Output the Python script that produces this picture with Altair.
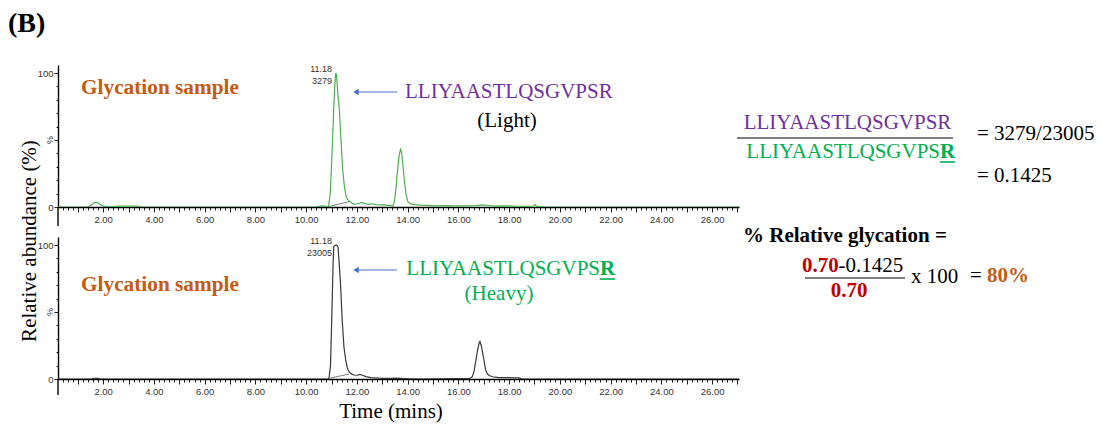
import altair as alt
import pandas as pd

# ---- chromatogram traces (retention time in min, relative abundance in %) ----
light_time = [0.22, 1.35, 1.50, 1.62, 1.72, 1.82, 1.95, 2.10, 2.30, 2.65, 3.00, 3.35, 3.50,
              10.40, 10.50, 10.65, 10.80, 10.88, 10.95, 11.01, 11.07, 11.12, 11.16, 11.18, 11.21,
              11.26, 11.31, 11.38, 11.44, 11.51, 11.57, 11.64, 11.71, 11.80, 11.90,
              12.00, 12.10, 12.20, 12.30, 12.45, 12.60, 12.75, 12.90, 13.05, 13.20, 13.35,
              13.42, 13.48, 13.54, 13.60, 13.66, 13.72, 13.76, 13.81, 13.88, 13.94, 14.01, 14.14,
              14.30, 14.50, 14.80, 15.10, 15.50, 15.90, 16.30, 16.70, 16.95, 17.10, 17.40, 17.80,
              18.20, 18.60, 18.95, 19.02, 19.10, 19.50, 27.06]
light_abund = [0, 0, 1.0, 3.0, 3.6, 2.8, 1.2, 0.4, 0.1, 0.6, 0.7, 0.6, 0,
               0, 0.5, 0.8, 0.4, 0.3, 10, 35, 65, 88, 99, 100, 95,
               82, 72, 48, 28, 15, 8, 5.5, 4.0, 3.0, 2.2,
               2.3, 2.8, 3.4, 2.6, 2.0, 2.4, 1.8, 1.5, 1.8, 1.2, 1.0,
               0.8, 4, 14, 27, 38, 43, 41, 32, 18, 9, 4, 2.2,
               1.8, 1.4, 1.2, 0.9, 1.1, 0.8, 0.9, 1.0, 1.6, 1.3, 0.7, 0.9,
               0.6, 0.5, 0.6, 1.8, 0.4, 0, 0]

heavy_time = [0.22, 1.55, 1.62, 1.80, 1.88,
              10.85, 10.90, 10.96, 11.01, 11.06, 11.09, 11.13, 11.18, 11.23, 11.26, 11.31, 11.36,
              11.42, 11.49, 11.56, 11.62, 11.69, 11.78, 11.88,
              12.00, 12.12, 12.22, 12.35, 12.55, 12.80, 13.10, 13.35, 13.55, 13.80, 14.10, 14.50,
              16.45, 16.55, 16.62, 16.69, 16.76, 16.82, 16.85, 16.90, 16.95, 17.01, 17.07, 17.14,
              17.24, 17.34, 17.60, 17.90, 18.20, 18.40, 18.50, 27.06]
heavy_abund = [0, 0, 0.5, 0.5, 0,
               0, 0.5, 10, 45, 85, 99, 99.5, 100, 99.5, 98, 84, 69,
               44, 24, 14, 8.5, 5.4, 3.8, 3.0,
               2.8, 3.4, 2.8, 1.8, 1.0, 0.7, 0.4, 0.5, 0.7, 0.4, 0.2, 0,
               0.5, 1.7, 6, 14, 22, 27, 28, 25, 20, 14, 7, 3.7,
               2.4, 1.7, 1.1, 1.0, 0.9, 0.8, 0, 0]

# integration baselines under the 11.18 min peak
light_base_time = [10.88, 11.69]
light_base_abund = [0.3, 4.0]
heavy_base_time = [10.90, 11.70]
heavy_base_abund = [0.5, 3.7]

peak_rt = 11.18
light_area = 3279
heavy_area = 23005
ratio_text = "0.1425"
reference_ratio = "0.70"
glycation_pct = "80%"
peptide = "LLIYAASTLQSGVPS"
last_residue = "R"

x_tick_values = [round(0.4 + 0.2 * i, 1) for i in range(134)]
y_tick_values = list(range(0, 101, 10))

# ---- layout / styling ----
W, H = 681, 142
TIME_DOMAIN = [0.22, 27.06]
ABUND_DOMAIN = [0, 106]
SERIF = "Liberation Serif"
SANS = "Liberation Sans"
PURPLE = "#7030A0"
GREEN = "#00B050"
ORANGE = "#C55A11"
RED = "#C00000"
BLUE = "#4472C4"
FS = 21
R_W = 15  # width of the bold residue letter
ONE = alt.Data(values=[{"k": 0}])

x_axis = alt.Axis(
    values=x_tick_values,
    labelExpr="datum.value % 2 == 0 ? format(datum.value, '.2f') : ''",
    tickSize={"condition": {"test": "datum.value % 1 == 0", "value": 5}, "value": 3},
    labelFont=SANS, labelFontSize=9.5, labelColor="#333333", labelPadding=2,
    labelOverlap=False, labelFlush=False,
    domainColor="black", domainWidth=1.6, tickColor="#222222", tickWidth=1,
    grid=False, title=None,
)
y_axis = alt.Axis(
    values=y_tick_values,
    labelExpr="datum.value == 100 || datum.value == 0 ? datum.label : ''",
    tickSize={"condition": {"test": "datum.value % 50 == 0", "value": 4}, "value": 2},
    labelFont=SANS, labelFontSize=9.5, labelColor="#333333", labelPadding=1,
    labelOverlap=False, labelFlush=False,
    domainColor="black", domainWidth=1.4, tickColor="#222222", tickWidth=1,
    grid=False, title=None,
)
xenc = alt.X("t:Q", scale=alt.Scale(domain=TIME_DOMAIN, nice=False, zero=False), axis=x_axis)
yenc = alt.Y("a:Q", scale=alt.Scale(domain=ABUND_DOMAIN, nice=False), axis=y_axis)


def txt(s, x, y, size=FS, color="black", weight="normal", align="left", angle=0, font=SERIF):
    return alt.Chart(ONE).mark_text(
        text=s, font=font, fontSize=size, fontWeight=weight, color=color,
        align=align, baseline="alphabetic", angle=angle,
    ).encode(x=alt.value(x), y=alt.value(y))


def hline(x1, x2, y, color="black", width=1.2):
    return alt.Chart(ONE).mark_rule(color=color, strokeWidth=width).encode(
        x=alt.value(x1), x2=alt.value(x2), y=alt.value(y))


def heavy_label(r_left, y):
    # sequence with the labelled C-terminal residue in bold and underlined
    return [
        txt(peptide, r_left, y, color=GREEN, align="right"),
        txt(last_residue, r_left, y, color=GREEN, weight="bold"),
        hline(r_left, r_left + R_W, y + 4, GREEN, 1.6),
    ]


def arrow(x1, x2, y):
    shaft = hline(x1 + 4, x2, y, BLUE, 1.2)
    head = alt.Chart(ONE).mark_point(shape="triangle-left", filled=True, size=40,
                                      color=BLUE, opacity=1).encode(
        x=alt.value(x1 + 3), y=alt.value(y))
    return [shaft, head]


def panel(time, abund, base_t, base_a, color, area, axis_tail):
    df = pd.DataFrame({"t": time, "a": abund})
    base = pd.DataFrame({"t": base_t, "a": base_a})
    lab = pd.DataFrame({"t": [peak_rt], "a": [100]})
    pct = pd.DataFrame({"t": [TIME_DOMAIN[0]], "a": [50]})
    return [
        alt.Chart(df).mark_line(color=color, strokeWidth=1.2, clip=True).encode(x=xenc, y=yenc),
        alt.Chart(base).mark_line(color="#808080", strokeWidth=1).encode(x=xenc, y=yenc),
        alt.Chart(lab).mark_text(text=f"{peak_rt:.2f}", font=SANS, fontSize=9, color="#333333",
                                 align="right", baseline="alphabetic", dx=-4, dy=-1.5
                                 ).encode(x=xenc, y=yenc),
        alt.Chart(lab).mark_text(text=f"{area}", font=SANS, fontSize=9, color="#333333",
                                 align="right", baseline="alphabetic", dx=-4, dy=10.5
                                 ).encode(x=xenc, y=yenc),
        alt.Chart(pct).mark_text(text="%", font=SANS, fontSize=9, color="#333333",
                                 angle=270, baseline="middle").encode(x=alt.value(-8), y=yenc),
        alt.Chart(ONE).mark_rule(color="black", strokeWidth=1.4).encode(
            x=alt.value(0), y=alt.value(H), y2=alt.value(H + axis_tail)),
    ]


# ---- top panel: light peptide ----
top_layers = [
    # transparent frame that spans the whole figure
    alt.Chart(ONE).mark_rect(opacity=0).encode(
        x=alt.value(-58), x2=alt.value(1044), y=alt.value(-65), y2=alt.value(363)),
]
top_layers += panel(light_time, light_abund, light_base_time, light_base_abund,
                    "#4CB050", light_area, 19)
top_layers += [
    txt("(B)", -50, -33, size=28, weight="bold"),
    txt("Relative abundance (%)", -22, 176, size=21, align="center", angle=270),
    txt("Glycation sample", 23, 29, size=21.3, color=ORANGE, weight="bold"),
    txt(peptide + last_residue, 347, 33, color=PURPLE),
    txt("(Light)", 449, 62, align="center"),
]
top_layers += arrow(295, 339, 27)

# ratio of light to heavy
top_layers += [
    txt(peptide + last_residue, 789.5, 64, color=PURPLE, align="center"),
    hline(679, 895, 73, "black", 1.2),
    txt(f"= {light_area}/{heavy_area}", 919, 75),
    txt(f"= {ratio_text}", 919, 117),
]
top_layers += heavy_label(882, 93)
# relative glycation
top_layers += [
    txt("% Relative glycation =", 685, 177, size=21, weight="bold"),
    txt(reference_ratio, 744, 207, color=RED, weight="bold"),
    txt(f"-{ratio_text}", 780.5, 207),
    hline(747, 847, 213, "black", 1.2),
    txt(reference_ratio, 791, 232, color=RED, weight="bold", align="center"),
    txt("x 100", 853, 218),
    txt("=", 912, 217),
    txt(glycation_pct, 929, 217, color=ORANGE, weight="bold"),
]
top = alt.layer(*top_layers).properties(width=W, height=H)

# ---- bottom panel: heavy peptide ----
bottom_layers = panel(heavy_time, heavy_abund, heavy_base_time, heavy_base_abund,
                      "#383838", heavy_area, 16)
bottom_layers += [
    txt("Glycation sample", 23, 54, size=21.3, color=ORANGE, weight="bold"),
    txt("(Heavy)", 441, 63, color=GREEN, align="center"),
    txt("Time (mins)", 333, 181, size=21, align="center"),
]
bottom_layers += heavy_label(542, 38)
bottom_layers += arrow(295, 339, 33)
bottom = alt.layer(*bottom_layers).properties(width=W, height=H)

chart = alt.vconcat(
    top, bottom, spacing=30, bounds="flush", padding=0, background="white"
).configure_view(stroke=None)

chart.save("out.html", embed_options={"renderer": "svg", "actions": False})
